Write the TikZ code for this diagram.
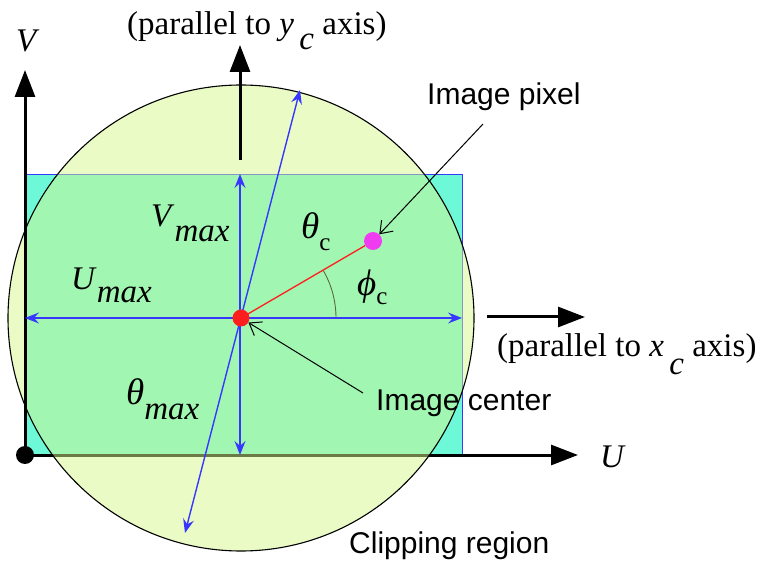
\documentclass[tikz,border=0pt]{standalone}
\usepackage{fontspec}
\setmainfont{Liberation Serif}
\newfontfamily\labelsans{Liberation Sans}
\usetikzlibrary{arrows.meta,calc}
\definecolor{rectcyan}{RGB}{109,248,216}
\definecolor{circyel}{RGB}{213,247,141}
\definecolor{bluel}{RGB}{55,55,255}
\definecolor{pinkdot}{RGB}{240,60,240}
\definecolor{redl}{RGB}{255,30,30}
\definecolor{arcol}{RGB}{95,105,60}
\newcommand{\grk}[1]{{\fontsize{37}{40}\selectfont\textit{#1}}}
\begin{document}
\begin{tikzpicture}[x=1pt,y=-1pt,
  bluearrow/.style={draw=bluel, line width=1.4pt,
    {Stealth[length=14pt,width=11pt,inset=5pt]}-{Stealth[length=14pt,width=11pt,inset=5pt]}},
  axisarrow/.style={line width=3pt, -{Triangle[length=27pt,width=20pt]}},
  pointer/.style={line width=1pt, -{Straight Barb[length=11pt,width=16pt]}},
  mathlbl/.style={font=\fontsize{33}{38}\selectfont, inner sep=0pt, anchor=base west},
  seriflbl/.style={font=\fontsize{33}{38}\selectfont, inner sep=0pt, anchor=base west},
  sanslbl/.style={font=\labelsans\fontsize{30}{34}\selectfont, inner sep=0pt, anchor=base west},
  dot/.style={circle, inner sep=0pt, minimum size=#1}]
\useasboundingbox (0,0) rectangle (772,572);
% coordinates
\coordinate (o) at (25,455);
\coordinate (c) at (241,318);
\coordinate (uend) at (578,455);
\coordinate (vend) at (25,70);
\coordinate (rl) at (25,318);
\coordinate (rr) at (462,318);
\coordinate (rt) at (240,174);
\coordinate (rb) at (240,455);
\coordinate (dt) at (300,90);
\coordinate (db) at (185,533);
\coordinate (ytail) at (240,160);
\coordinate (yhead) at (240,45);
\coordinate (xtail) at (487,317);
\coordinate (xhead) at (585,317);
\coordinate (pixtail) at (483,124);
\coordinate (ctrtail) at (363,393);
% image rectangle
\path[fill=rectcyan, draw=bluel, line width=0.8pt] (25,174) rectangle (462,455);
% U axis
\draw[axisarrow] (o) -- (uend);
% clipping circle
\path[fill=circyel, fill opacity=0.5, draw=black, line width=1.1pt] (c) circle[radius=233];
% V axis
\draw[axisarrow] (o) -- (vend);
\node[dot=18pt, fill=black] (odot) at (o) {};
% parallel axes arrows
\draw[axisarrow] (ytail) -- (yhead);
\draw[axisarrow] (xtail) -- (xhead);
% blue dimension arrows
\draw[bluearrow] (rl) -- (rr);
\draw[bluearrow] (rb) -- (rt);
\draw[bluearrow] (db) -- (dt);
% angle arc
\draw[arcol, line width=0.9pt] ($(c)+(95,0)$) arc[start angle=0, end angle=-30, radius=95];
% pixel
\node[dot=18pt, fill=pinkdot] (pix) at (373,241) {};
\draw[redl, line width=1.3pt] (c) -- (pix);
\node[dot=17pt, fill=redl] (cdot) at (c) {};
% pointers
\draw[pointer] (pixtail) -- (pix);
\draw[pointer] (ctrtail) -- (cdot);
% labels
\node[mathlbl] (vlbl) at (16,52) {\textit{V}};
\node[mathlbl] (ulbl) at (600,467) {\textit{U}};
\node[mathlbl] (vmax) at (151,227) {\textit{V}\raisebox{-15pt}{\textit{max}}};
\node[mathlbl] (umax) at (71,290) {\textit{U}\raisebox{-13pt}{\textit{max}}};
\node[mathlbl] (thmax) at (126,405) {\grk{θ}\raisebox{-15pt}{\textit{max}}};
\node[mathlbl] (thc) at (301,239) {\grk{θ}\raisebox{-12pt}{\fontsize{25}{28}\selectfont c}};
\node[mathlbl] (phic) at (357,296) {\grk{ϕ}\raisebox{-9pt}{\fontsize{25}{28}\selectfont c}};
\node[seriflbl] (ypar) at (127,35) {(parallel to \textit{y}\,\raisebox{-15pt}{\textit{c}} axis)};
\node[seriflbl] (xpar) at (497,357) {(parallel to \textit{x}\,\raisebox{-18pt}{\textit{c}} axis)};
\node[sanslbl] (pixlbl) at (427,105) {Image pixel};
\node[sanslbl] (ctrlbl) at (376,410) {Image center};
\node[sanslbl] (cliplbl) at (349,553) {Clipping region};
\end{tikzpicture}
\end{document}
